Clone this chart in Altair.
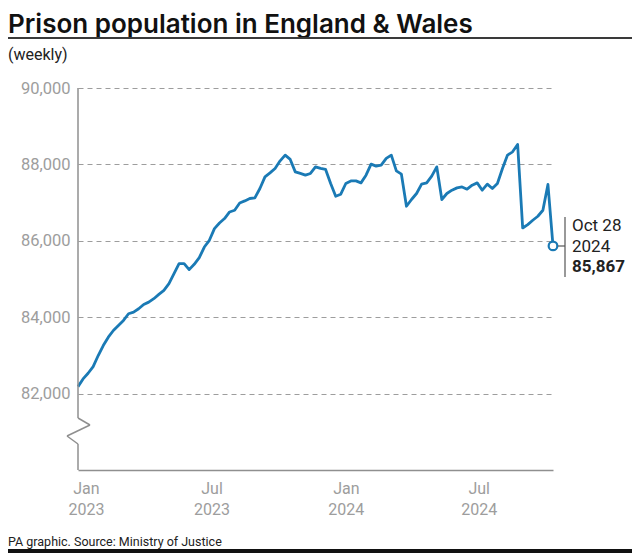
import altair as alt
import pandas as pd

# ---- data ----
dates = pd.date_range("2023-01-09", periods=95, freq="7D").strftime("%Y-%m-%d").tolist()
population = [
    82183, 82385, 82532, 82708, 82997, 83259, 83477, 83652, 83784, 83915,
    84090, 84132, 84221, 84334, 84395, 84484, 84597, 84702, 84877, 85140,
    85402, 85402, 85245, 85384, 85559, 85837, 86013, 86320, 86467, 86582,
    86755, 86800, 86991, 87044, 87107, 87123, 87369, 87673, 87778, 87894,
    88093, 88243, 88130, 87805, 87763, 87718, 87763, 87936, 87894, 87867,
    87500, 87167, 87220, 87500, 87568, 87568, 87516, 87718, 88007, 87954,
    87980, 88156, 88243, 87831, 87744, 86905, 87081, 87238, 87482, 87516,
    87692, 87936, 87081, 87238, 87325, 87385, 87411, 87351, 87456, 87516,
    87325, 87482, 87369, 87500, 87894, 88243, 88329, 88523, 86336, 86425,
    86538, 86643, 86800, 87474, 85867,
]
y_ticks = [82000, 84000, 86000, 88000, 90000]
x_tick_dates = [(2023, 1, 20), (2023, 7, 13), (2024, 1, 15), (2024, 7, 17)]

title_text = "Prison population in England & Wales"
subtitle_text = "(weekly)"
footer_text = "PA graphic. Source: Ministry of Justice"

df = pd.DataFrame({"date": dates, "population": population})
last = df.iloc[[-1]]
last_ts = pd.Timestamp(dates[-1])
ann_date = f"{last_ts:%b} {last_ts.day}"
ann_year = f"{last_ts.year}"
ann_value = f"{population[-1]:,}"

BLUE = "#1a7ab5"
GREY = "#9d9d9d"
AXIS_GREY = "#8f8f8f"
DARK = "#222222"
FONT = "Roboto"

first = pd.Timestamp(dates[0])
x_scale = alt.Scale(
    type="utc",
    domain=[
        alt.DateTime(year=first.year, month=first.month, date=first.day, utc=True),
        alt.DateTime(year=last_ts.year, month=last_ts.month, date=last_ts.day, utc=True),
    ],
)
x_axis = alt.Axis(
    values=[alt.DateTime(year=a, month=b, date=c, utc=True) for a, b, c in x_tick_dates],
    labelExpr="[utcFormat(datum.value, '%b'), utcFormat(datum.value, '%Y')]",
    title=None, grid=False, ticks=False, domain=True, domainColor=AXIS_GREY,
    domainWidth=1.5, labelColor=GREY, labelFontSize=16, labelFont=FONT,
    labelPadding=10, labelLineHeight=21, labelBaseline="top", labelAlign="center",
)
y_scale = alt.Scale(domain=[80000, 90000], nice=False, zero=False)
y_axis = alt.Axis(
    values=y_ticks, format=",d", title=None, grid=True, gridDash=[5, 4],
    gridColor=GREY, gridWidth=1, domain=False, ticks=False, labelColor=GREY,
    labelFontSize=16.5, labelFont=FONT, labelPadding=8,
)

X = alt.X("date:T", scale=x_scale, axis=x_axis)
Y = alt.Y("population:Q", scale=y_scale, axis=y_axis)

line = alt.Chart(df).mark_line(color=BLUE, strokeWidth=2.8, strokeJoin="round").encode(x=X, y=Y)
dot = alt.Chart(last).mark_point(
    shape="circle", filled=True, fill="white", stroke=BLUE, strokeWidth=2.2,
    size=75, opacity=1,
).encode(x=X, y=Y)

one = pd.DataFrame({"a": [0]})


def seg(x1, y1, x2, y2, color=AXIS_GREY, width=1.5):
    return alt.Chart(one).mark_rule(color=color, strokeWidth=width).encode(
        x=alt.value(x1), y=alt.value(y1), x2=alt.value(x2), y2=alt.value(y2)
    )


# y-axis line with break symbol
axis_parts = [
    seg(0, 0, 0, 330),
    seg(0, 330, 12, 337),
    seg(12, 337, -11, 348),
    seg(-11, 348, 0, 356),
    seg(0, 356, 0, 382),
]

# annotation for latest value
ann_rule = seg(487, 129, 487, 189, color="#555555", width=1.2)
ann_tick = seg(480, 158, 487, 158, color="#555555", width=1.2)


def txt(text, x, y, size, weight="normal", color=DARK, align="left", font=FONT):
    return alt.Chart(one).mark_text(
        text=text, font=font, fontSize=size, fontWeight=weight, color=color,
        align=align, baseline="alphabetic",
    ).encode(x=alt.value(x), y=alt.value(y))


ann_texts = [
    txt(ann_date, 494, 143, 17),
    txt(ann_year, 494, 164, 17),
    txt(ann_value, 494, 184, 17, weight="bold"),
]

title = txt(title_text, -70, -55, 26, weight=600, color="#111111", font="Inter")
title_rule = seg(-70, -50, 554, -50, color="#3a3a3a", width=2)
subtitle = txt(subtitle_text, -70, -28, 16, color=DARK)
footer = txt(footer_text, -70, 458, 12.5, color=DARK)
bottom_bar = seg(-70, 463, 554, 463, color="#111111", width=4)

chart = alt.layer(
    line, *axis_parts, dot, ann_rule, ann_tick, *ann_texts,
    title, title_rule, subtitle, footer, bottom_bar,
).properties(
    width=475, height=382,
    autosize=alt.AutoSizeParams(type="none"),
    padding={"left": 70, "top": 80, "right": 79, "bottom": 87},
    background="white",
).configure_view(stroke=None)

chart.save("out.html", embed_options={"renderer": "svg", "actions": False})
